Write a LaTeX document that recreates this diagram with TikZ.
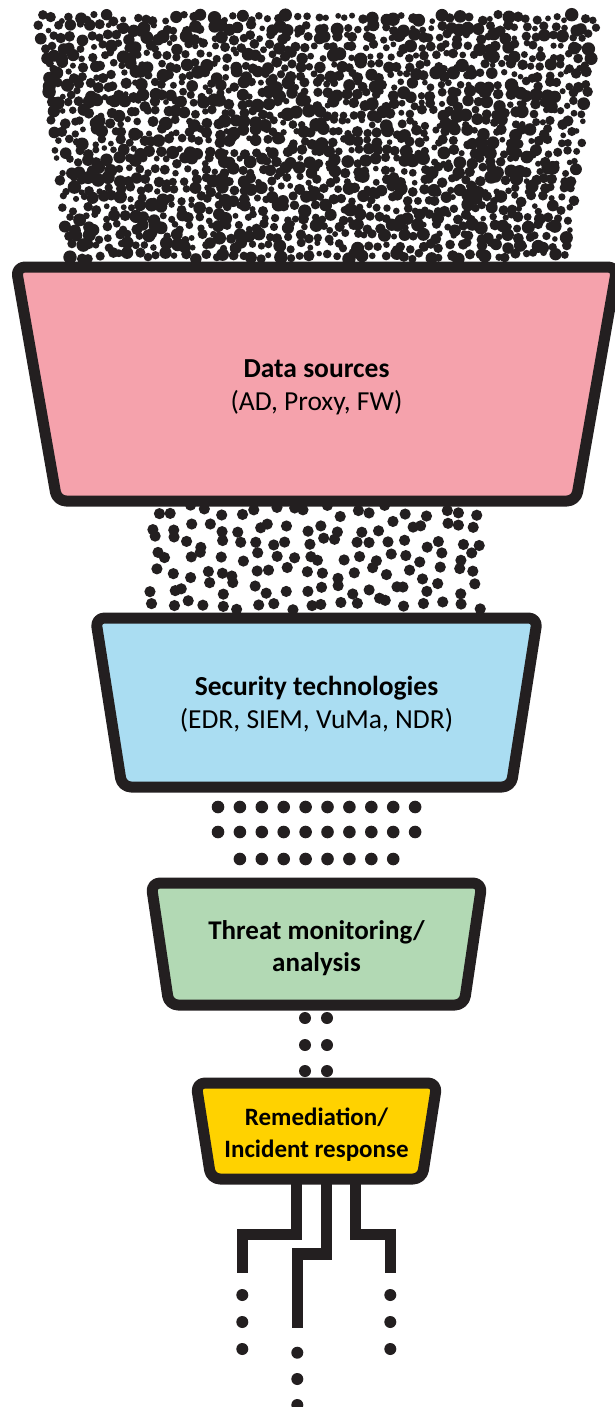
\documentclass[tikz,border=0pt]{standalone}
\usepackage{fontspec}
\setmainfont{Carlito}
\definecolor{pinkc}{HTML}{F5A2AC}
\definecolor{bluec}{HTML}{AADDF2}
\definecolor{greenc}{HTML}{B2D9B4}
\definecolor{yellowc}{HTML}{FFD200}
\definecolor{darkc}{HTML}{231F20}
\begin{document}
\begin{tikzpicture}[x=1pt,y=-1pt,
  funnel/.style={draw=darkc,line width=11pt,rounded corners=9pt,line join=round},
  lbl/.style={align=center,inner sep=0pt,text=black,font=\fontsize{27.5}{33}\selectfont},
  slbl/.style={align=center,inner sep=0pt,text=black,font=\fontsize{25}{32}\selectfont\bfseries},
  dotc/.style={fill=darkc},
  wire/.style={draw=darkc,line width=11.5pt,line cap=butt,line join=miter}]
\useasboundingbox (0,0) rectangle (614,1407);
% ---- dense dots on top
\pgfmathsetseed{4711}
\foreach \r in {0,...,25}{
  \pgfmathsetmacro{\yy}{18+\r*9.5}
  \pgfmathsetmacro{\xl}{40+33/244*(\yy-18)}
  \pgfmathsetmacro{\xr}{594-31/244*(\yy-18)}
  \pgfmathsetmacro{\nc}{int(round((\xr-\xl)/9.5))}
  \pgfmathsetmacro{\dx}{(\xr-\xl)/\nc}
  \foreach \c in {0,...,\nc}{
    \pgfmathsetmacro{\xx}{\xl+\dx*\c+3.5*rand}
    \pgfmathsetmacro{\yj}{\yy+3.5*rand}
    \pgfmathsetmacro{\rr}{4.8+2*rand}
    \fill[dotc] (\xx,\yj) circle (\rr pt);
  }
}
% ---- sparser dots between data sources and security technologies
\foreach \r in {0,...,6}{
  \foreach \c in {0,...,19}{
    \pgfmathsetmacro{\xx}{153+\c*17+6.5*rand}
    \pgfmathsetmacro{\yj}{511+\r*15.5+6*rand}
    \fill[dotc] (\xx,\yj) circle (5.6pt);
  }
}
% ---- grid dots between security technologies and threat monitoring
\foreach \c in {0,...,9}{
  \fill[dotc] (218+\c*21.9,807) circle (6.3pt);
  \fill[dotc] (218+\c*21.9,832) circle (6.3pt);
}
\foreach \c in {1,...,8}{
  \fill[dotc] (218+\c*21.9,859) circle (6.3pt);
}
% ---- dots between threat monitoring and remediation
\foreach \yv in {1018,1045,1071}{
  \fill[dotc] (305,\yv) circle (6pt);
  \fill[dotc] (327,\yv) circle (6pt);
}
% ---- funnel stages
\draw[funnel,fill=pinkc] (16,267) -- (617,267) -- (576,501) -- (57,501) -- cycle;
\node[lbl] (ds) at (316.5,387) {\textbf{Data sources}\\(AD, Proxy, FW)};
\draw[funnel,fill=bluec] (95.5,618) -- (537.5,618) -- (511,787) -- (122,787) -- cycle;
\node[lbl] (st) at (316.5,704) {\textbf{Security technologies}\\(EDR, SIEM, VuMa, NDR)};
\draw[funnel,fill=greenc] (151,883) -- (482,883) -- (464,1005) -- (169,1005) -- cycle;
\node[lbl,font=\fontsize{27}{32}\selectfont\bfseries] (tm) at (316.5,948) {Threat monitoring/\\analysis};
\draw[funnel,fill=yellowc] (196,1083) -- (437,1083) -- (422,1179) -- (211,1179) -- cycle;
\node[slbl] (rm) at (316.5,1135) {Remediation/\\Incident response};
% ---- outgoing wires
\coordinate (wl0) at (296.7,1180);
\coordinate (wm0) at (326.7,1180);
\coordinate (wr0) at (355.7,1180);
\coordinate (wl1) at (242.3,1273);
\coordinate (wm1) at (297.3,1328);
\coordinate (wr1) at (390.3,1273);
\draw[wire] (wl0) |- (269,1234.7) -| (wl1);
\draw[wire] (wm0) |- (310,1254) -| (wm1);
\draw[wire] (wr0) |- (373,1234.7) -| (wr1);
\foreach \yv in {1295,1322,1349}{
  \fill[dotc] (242.3,\yv) circle (6pt);
  \fill[dotc] (390.3,\yv) circle (6pt);
}
\foreach \yv in {1352.7,1379,1405}{
  \fill[dotc] (297.3,\yv) circle (6pt);
}
\end{tikzpicture}
\end{document}
